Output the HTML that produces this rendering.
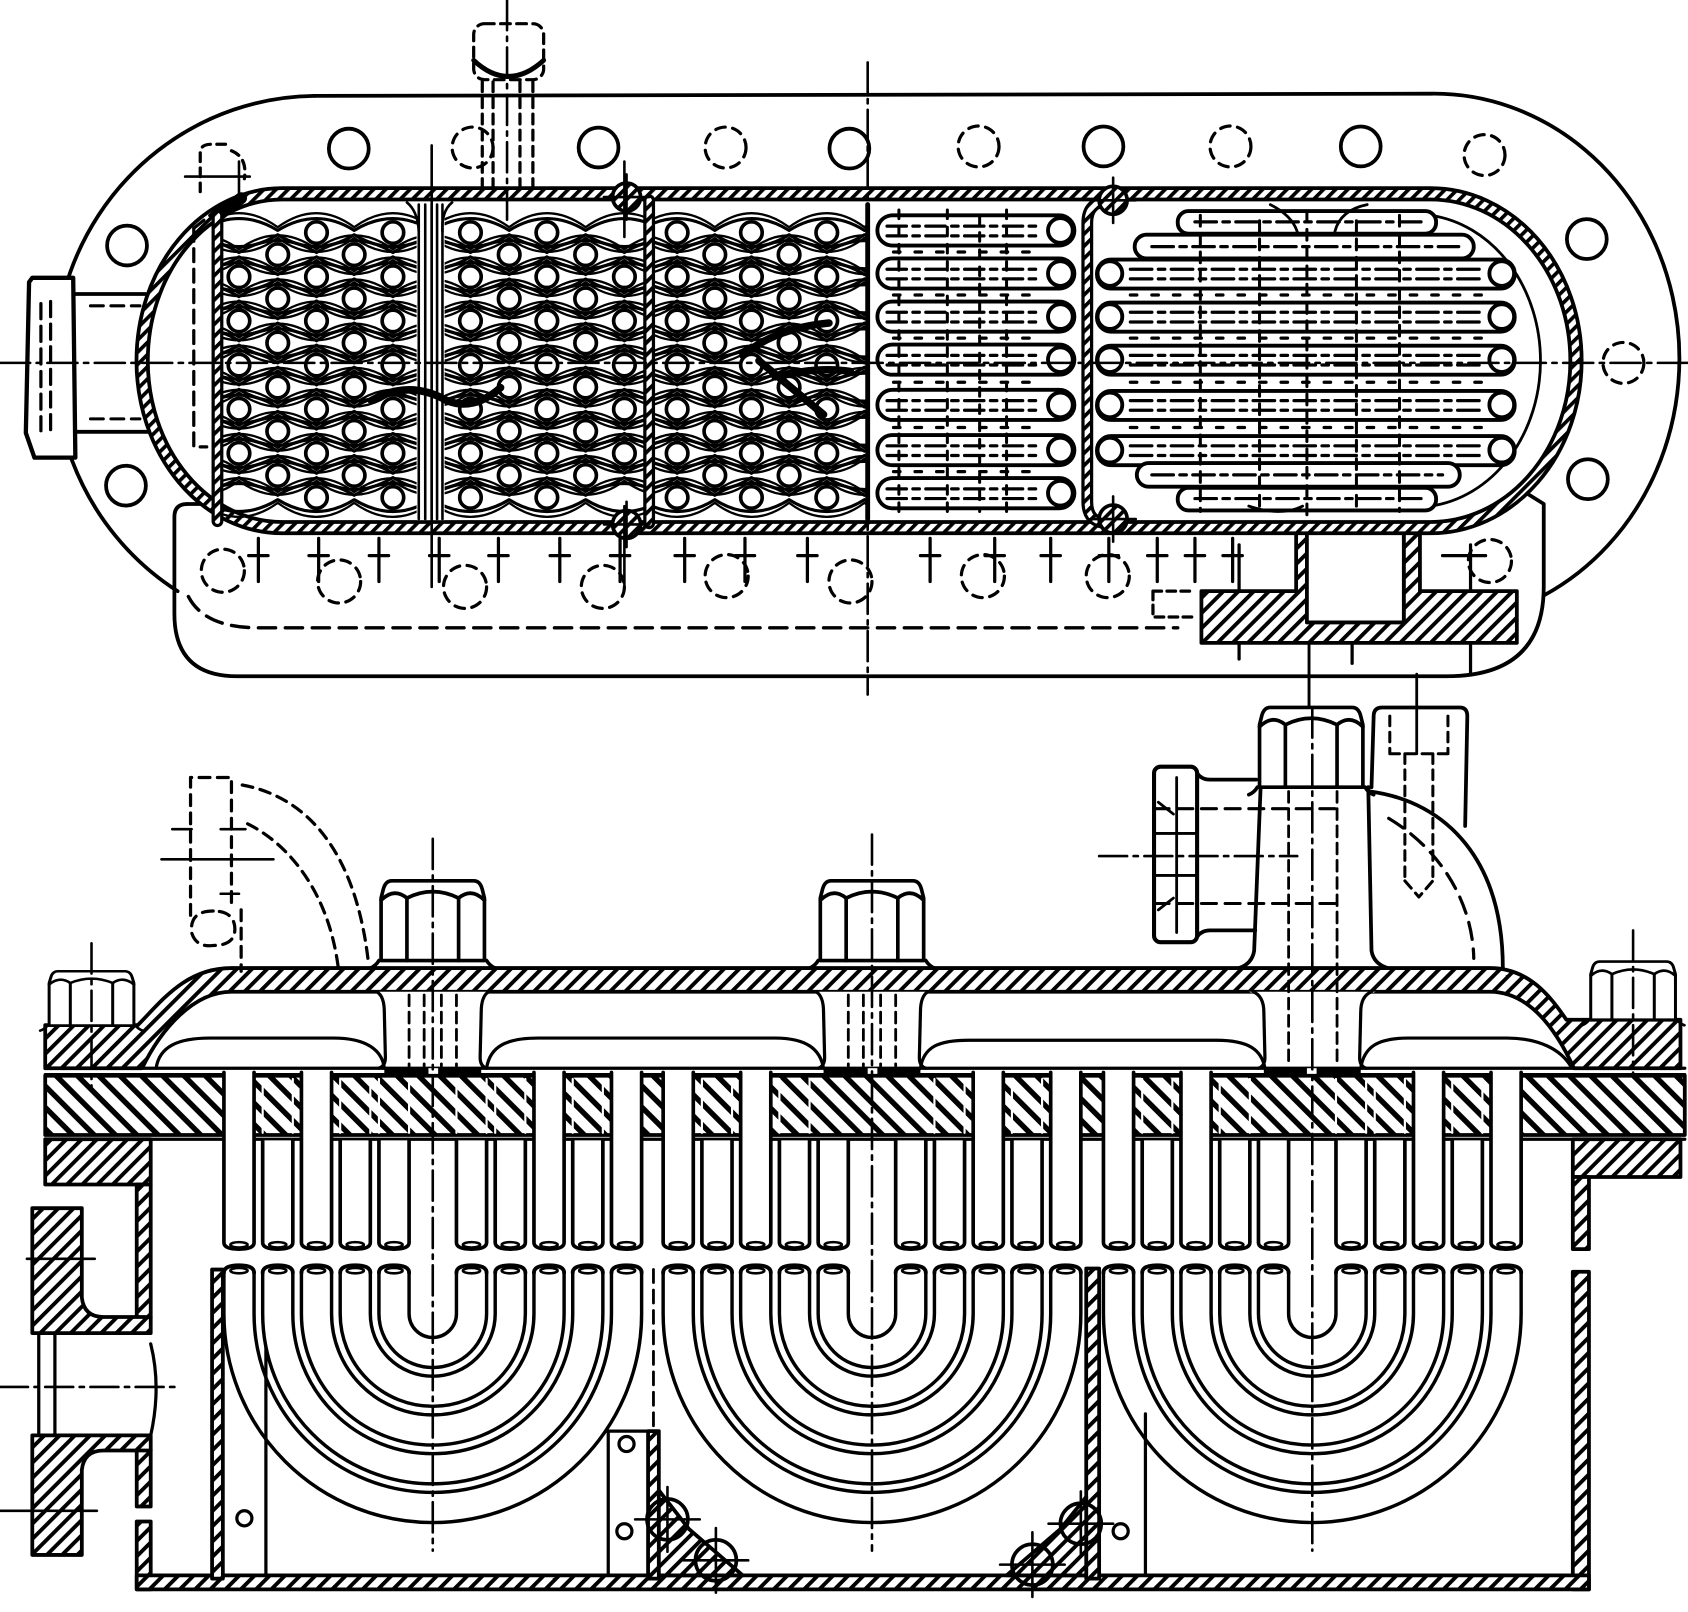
<!DOCTYPE html>
<html><head><meta charset="utf-8"><style>
html,body{margin:0;padding:0;background:#fff;}
svg{display:block;}
</style></head><body>
<svg xmlns="http://www.w3.org/2000/svg" width="1688" height="1612" viewBox="0 0 1568 1497" preserveAspectRatio="none">
<defs>
 <pattern id="hs" patternUnits="userSpaceOnUse" width="8" height="8" patternTransform="rotate(45)"><rect width="8" height="8" fill="#fff"/><rect width="3.4" height="8" fill="#000"/></pattern>
 <pattern id="hc" patternUnits="userSpaceOnUse" width="10" height="10" patternTransform="rotate(45)"><rect width="10" height="10" fill="#fff"/><rect width="3.6" height="10" fill="#000"/></pattern>
 <pattern id="ht" patternUnits="userSpaceOnUse" width="14" height="14" patternTransform="rotate(-45)"><rect width="14" height="14" fill="#fff"/><rect width="5" height="14" fill="#000"/></pattern>
 <clipPath id="cs1"><rect x="207" y="189" width="391" height="294"/></clipPath>
 <clipPath id="cs2"><rect x="608" y="189" width="198" height="294"/></clipPath>

 <g id="l1e" fill="none" stroke="#000" stroke-width="2.9">
  <path d="M186 -2Q222 -24 258 -2Q294 -24 329 -2Q365 -24 401 -2Q437 -24 473 -2Q508 -24 544 -2Q580 -24 616 -2"/>
  <path d="M186 2Q222 24 258 2Q294 24 329 2Q365 24 401 2Q437 24 473 2Q508 24 544 2Q580 24 616 2"/>
  <path d="M186 -5Q222 -31 258 -5Q294 -31 329 -5Q365 -31 401 -5Q437 -31 473 -5Q508 -31 544 -5Q580 -31 616 -5" stroke-width="2.1"/>
  <path d="M186 5Q222 31 258 5Q294 31 329 5Q365 31 401 5Q437 31 473 5Q508 31 544 5Q580 31 616 5" stroke-width="2.1"/>
 </g>
 <g id="l1o" fill="none" stroke="#000" stroke-width="2.9">
  <path d="M150 -2Q186 -24 222 -2Q258 -24 294 -2Q329 -24 365 -2Q401 -24 437 -2Q473 -24 508 -2Q544 -24 580 -2Q616 -24 652 -2"/>
  <path d="M150 2Q186 24 222 2Q258 24 294 2Q329 24 365 2Q401 24 437 2Q473 24 508 2Q544 24 580 2Q616 24 652 2"/>
  <path d="M150 -5Q186 -31 222 -5Q258 -31 294 -5Q329 -31 365 -5Q401 -31 437 -5Q473 -31 508 -5Q544 -31 580 -5Q616 -31 652 -5" stroke-width="2.1"/>
  <path d="M150 5Q186 31 222 5Q258 31 294 5Q329 31 365 5Q401 31 437 5Q473 31 508 5Q544 31 580 5Q616 31 652 5" stroke-width="2.1"/>
 </g>
 <g id="l2e" fill="none" stroke="#000" stroke-width="2.9">
  <path d="M594 -2Q629 -24 664 -2Q698 -24 733 -2Q768 -24 803 -2Q837 -24 872 -2"/>
  <path d="M594 2Q629 24 664 2Q698 24 733 2Q768 24 803 2Q837 24 872 2"/>
  <path d="M594 -5Q629 -31 664 -5Q698 -31 733 -5Q768 -31 803 -5Q837 -31 872 -5" stroke-width="2.1"/>
  <path d="M594 5Q629 31 664 5Q698 31 733 5Q768 31 803 5Q837 31 872 5" stroke-width="2.1"/>
 </g>
 <g id="l2o" fill="none" stroke="#000" stroke-width="2.9">
  <path d="M560 -2Q594 -24 629 -2Q664 -24 698 -2Q733 -24 768 -2Q803 -24 837 -2"/>
  <path d="M560 2Q594 24 629 2Q664 24 698 2Q733 24 768 2Q803 24 837 2"/>
  <path d="M560 -5Q594 -31 629 -5Q664 -31 698 -5Q733 -31 768 -5Q803 -31 837 -5" stroke-width="2.1"/>
  <path d="M560 5Q594 31 629 5Q664 31 698 5Q733 31 768 5Q803 31 837 5" stroke-width="2.1"/>
 </g>
 <g id="c1e" fill="#fff" stroke="#000" stroke-width="3.4"><circle cx="222" r="10"/><circle cx="294" r="10"/><circle cx="365" r="10"/><circle cx="437" r="10"/><circle cx="508" r="10"/><circle cx="580" r="10"/></g>
 <g id="c1r" fill="#fff" stroke="#000" stroke-width="3.4"><circle cx="294" r="10"/><circle cx="365" r="10"/><circle cx="437" r="10"/><circle cx="508" r="10"/></g>
 <g id="c1o" fill="#fff" stroke="#000" stroke-width="3.4"><circle cx="258" r="10"/><circle cx="329" r="10"/><circle cx="473" r="10"/><circle cx="544" r="10"/></g>
 <g id="c2e" fill="#fff" stroke="#000" stroke-width="3.4"><circle cx="629" r="10"/><circle cx="698" r="10"/><circle cx="768" r="10"/></g>
 <g id="c2o" fill="#fff" stroke="#000" stroke-width="3.4"><circle cx="664" r="10"/><circle cx="733" r="10"/></g>

 <g id="nut" fill="#fff" stroke="#000" stroke-width="3.4" stroke-linejoin="round">
  <path d="M-38 0L38 0Q44 0 46 8L48 16L48 74L-48 74L-48 16L-46 8Q-44 0 -38 0Z"/>
  <path d="M-48 18Q-36 6 -24 16Q0 4 24 16Q36 6 48 18" fill="none"/>
  <path d="M-24 16V74M24 16V74" fill="none"/>
  <path d="M-50 74Q-53 79 -58 81M50 74Q53 79 58 81" fill="none"/>
 </g>

 <g id="ub" fill="none" stroke="#000" stroke-width="3.2">
  <path d="M-50 -38V0A50 50 0 0 0 50 0V-38M-22 -38V0A22 22 0 0 0 22 0V-38"/>
  <path d="M-86 -38V0A86 86 0 0 0 86 0V-38M-58 -38V0A58 58 0 0 0 58 0V-38"/>
  <path d="M-122 -38V0A122 122 0 0 0 122 0V-38M-94 -38V0A94 94 0 0 0 94 0V-38"/>
  <path d="M-158 -38V0A158 158 0 0 0 158 0V-38M-130 -38V0A130 130 0 0 0 130 0V-38"/>
  <path d="M-194 -38V0A194 194 0 0 0 194 0V-38M-166 -38V0A166 166 0 0 0 166 0V-38"/>
  <path d="M-50 -38Q-50 -45 -36 -45Q-22 -45 -22 -38M22 -38Q22 -45 36 -45Q50 -45 50 -38M-86 -38Q-86 -45 -72 -45Q-58 -45 -58 -38M58 -38Q58 -45 72 -45Q86 -45 86 -38M-122 -38Q-122 -45 -108 -45Q-94 -45 -94 -38M94 -38Q94 -45 108 -45Q122 -45 122 -38M-158 -38Q-158 -45 -144 -45Q-130 -45 -130 -38M130 -38Q130 -45 144 -45Q158 -45 158 -38M-194 -38Q-194 -45 -180 -45Q-166 -45 -166 -38M166 -38Q166 -45 180 -45Q194 -45 194 -38" stroke-width="3.6"/>
  <g stroke-width="2.4"><ellipse cx="-36" cy="-40" rx="8" ry="2.5"/><ellipse cx="36" cy="-40" rx="8" ry="2.5"/><ellipse cx="-72" cy="-40" rx="8" ry="2.5"/><ellipse cx="72" cy="-40" rx="8" ry="2.5"/><ellipse cx="-108" cy="-40" rx="8" ry="2.5"/><ellipse cx="108" cy="-40" rx="8" ry="2.5"/><ellipse cx="-144" cy="-40" rx="8" ry="2.5"/><ellipse cx="144" cy="-40" rx="8" ry="2.5"/><ellipse cx="-180" cy="-40" rx="8" ry="2.5"/><ellipse cx="180" cy="-40" rx="8" ry="2.5"/></g>
 </g>
 <g id="tS" stroke="#000" stroke-width="3.4"><path d="M-14 -101V-6Q-14 0 0 0Q14 0 14 -6V-101" fill="#fff"/><ellipse cy="-4" rx="8" ry="2.5" fill="none" stroke-width="2.4"/></g>
 <g id="tL" stroke="#000" stroke-width="3.4"><path d="M-14 -164V-6Q-14 0 0 0Q14 0 14 -6V-164" fill="#fff"/><ellipse cy="-4" rx="8" ry="2.5" fill="none" stroke-width="2.4"/></g>
 <g id="weld" stroke="#000"><circle r="13" fill="url(#hs)" stroke-width="3.4"/><path d="M-21 0H21M0 -21V21" stroke-width="2.4" fill="none"/></g>
 <g id="weldB" stroke="#000" fill="none"><circle r="19" stroke-width="3.4"/><path d="M-30 0H30M0 -30V30" stroke-width="2.4"/></g>
</defs>

<g fill="none" stroke="#000" stroke-width="3.5" stroke-linecap="round" stroke-linejoin="round">

<!-- ================= TOP VIEW ================= -->
<path d="M292 89L1330 87A228 246 0 0 1 1434 553"/>
<path d="M292 89A244 249 0 0 0 165 549"/>
<path d="M174 468Q162 468 162 480L162 570Q162 628 220 628L1344 628Q1434 628 1434 545L1434 468L1418 458"/>
<path d="M174 468L194 468"/>

<g stroke-width="3.5">
<circle cx="324" cy="138" r="18.5"/><circle cx="556" cy="137" r="18.5"/><circle cx="789" cy="138" r="18.5"/><circle cx="1025" cy="136" r="18.5"/><circle cx="1264" cy="136" r="18.5"/>
<circle cx="118" cy="228" r="18.5"/><circle cx="117" cy="451" r="18.5"/><circle cx="1474" cy="222" r="18.5"/><circle cx="1475" cy="445" r="18.5"/>
</g>
<g stroke-width="3" stroke-dasharray="9 7">
<circle cx="439" cy="137" r="19"/><circle cx="674" cy="137" r="19"/><circle cx="909" cy="136" r="19"/><circle cx="1143" cy="136" r="19"/><circle cx="1379" cy="144" r="19"/><circle cx="1508" cy="337" r="19"/>
</g>

<g stroke-width="3" stroke-dasharray="9 6">
<rect x="440" y="22" width="65" height="52" rx="10"/>
<path d="M448 76V176M458 76V176M483 76V176M495 76V176"/>
</g>
<path d="M440 56Q472 86 505 56" stroke-width="4.5"/>
<g stroke-width="3" stroke-dasharray="8 6"><path d="M186 178V142Q186 134 196 134H214"/><path d="M215 140Q230 146 227 166"/></g>
<path d="M172 164H232M222 150V182" stroke-width="2.4"/>

<path d="M175 554Q190 583 240 583L1094 583" stroke-dasharray="16 9" stroke-width="3.2"/>
<g stroke-width="3" stroke-dasharray="9 7">
<circle cx="207" cy="530" r="20"/><circle cx="315" cy="540" r="20"/><circle cx="432" cy="545" r="20"/><circle cx="560" cy="545" r="20"/><circle cx="675" cy="535" r="20"/><circle cx="790" cy="540" r="20"/><circle cx="913" cy="535" r="20"/><circle cx="1029" cy="535" r="20"/><circle cx="1384" cy="521" r="20"/>
</g>
<path stroke-width="3" d="M231 516H249M240 500V540M287 516H305M296 500V540M343 516H361M352 500V540M399 516H417M408 500V540M454 516H472M463 500V540M511 516H529M520 500V540M567 516H585M576 500V540M627 516H645M636 500V540M683 516H701M692 500V540M741 516H759M750 500V540M855 516H873M864 500V540M915 516H933M924 500V540M967 516H985M976 500V540M1021 516H1039M1030 500V540M1066 516H1084M1075 500V540M1101 516H1119M1110 500V540M1136 516H1154M1145 500V540M1151 506V612M1256 506V616M1366 506V626M1340 516H1380"/>

<path d="M1116 549L1204 549L1204 492L1214 492L1214 578L1304 578L1304 492L1319 492L1319 549L1409 549L1409 597L1116 597Z" fill="url(#hc)"/>
<path d="M1214 492V578H1304V492" fill="#fff"/>
<path d="M1071 549H1109M1071 549V573H1109" stroke-dasharray="8 5" stroke-width="3"/>
<path d="M1216 597V657M1316 626V700" stroke-width="2.6"/>

<path d="M30 258L68 258L70 425L32 425L24 402L27 262Z" fill="#fff" stroke-width="4"/>
<path d="M38 282V400M47 280V402" stroke-dasharray="14 7" stroke-width="3"/>
<path d="M70 273H135M70 401H140"/>
<path d="M84 284H130M84 389H130" stroke-dasharray="12 7" stroke-width="2.8"/>

<path d="M262 180L1329 180A135 155 0 0 1 1329 490L262 490A130 155 0 0 1 262 180Z" fill="#fff" stroke-width="14"/>
<path d="M262 180L1329 180A135 155 0 0 1 1329 490L262 490A130 155 0 0 1 262 180Z" stroke="url(#hs)" stroke-width="7"/>
<path d="M1329 200A116 136 0 0 1 1329 470" stroke-width="2.6"/>

<path d="M202 200V484M203 200L224 184M603 186V486M1030 187Q1010 187 1010 207L1010 466Q1010 486 1030 486" stroke-width="11"/>
<path d="M202 200V484M603 186V486M1030 187Q1010 187 1010 207L1010 466Q1010 486 1030 486" stroke="url(#hs)" stroke-width="5"/>
<path d="M180 212V415H192M180 212L210 188" stroke-dasharray="12 7" stroke-width="3"/>

<g clip-path="url(#cs1)">
<use href="#l1e" y="216"/><use href="#l1o" y="236.5"/><use href="#l1e" y="257"/><use href="#l1o" y="277.5"/><use href="#l1e" y="298"/><use href="#l1o" y="318.5"/><use href="#l1e" y="339"/><use href="#l1o" y="359.5"/><use href="#l1e" y="380"/><use href="#l1o" y="400.5"/><use href="#l1e" y="421"/><use href="#l1o" y="441.5"/><use href="#l1e" y="462"/>
</g>
<use href="#c1r" y="216"/><use href="#c1o" y="236.5"/><use href="#c1e" y="257"/><use href="#c1o" y="277.5"/><use href="#c1e" y="298"/><use href="#c1o" y="318.5"/><use href="#c1e" y="339"/><use href="#c1o" y="359.5"/><use href="#c1e" y="380"/><use href="#c1o" y="400.5"/><use href="#c1e" y="421"/><use href="#c1o" y="441.5"/><use href="#c1r" y="462"/>
<rect x="387" y="188" width="26" height="295" fill="#fff" stroke="none"/>
<path d="M389 190V482M395 190V482M401 190V482M406 190V482M411 190V482" stroke-width="2.4"/>
<path d="M378 188Q388 196 389 215M420 188Q410 196 411 215" stroke-width="2.4"/>

<g clip-path="url(#cs2)">
<use href="#l2e" y="216"/><use href="#l2o" y="236.5"/><use href="#l2e" y="257"/><use href="#l2o" y="277.5"/><use href="#l2e" y="298"/><use href="#l2o" y="318.5"/><use href="#l2e" y="339"/><use href="#l2o" y="359.5"/><use href="#l2e" y="380"/><use href="#l2o" y="400.5"/><use href="#l2e" y="421"/><use href="#l2o" y="441.5"/><use href="#l2e" y="462"/>
</g>
<use href="#c2e" y="216"/><use href="#c2o" y="236.5"/><use href="#c2e" y="257"/><use href="#c2o" y="277.5"/><use href="#c2e" y="298"/><use href="#c2o" y="318.5"/><use href="#c2e" y="339"/><use href="#c2o" y="359.5"/><use href="#c2e" y="380"/><use href="#c2o" y="400.5"/><use href="#c2e" y="421"/><use href="#c2o" y="441.5"/><use href="#c2e" y="462"/>
<g stroke-width="7">
<path d="M345 372Q380 352 415 372Q440 382 465 360"/>
<path d="M690 330Q720 305 770 300M705 335L765 385M720 350Q760 340 790 345"/>
</g>
<path d="M806 190V482" stroke-width="4.5"/>

<!-- section 3 -->
<g fill="#fff" stroke-width="3.6">
<rect x="815" y="200" width="183" height="28" rx="14"/><rect x="815" y="240" width="183" height="28" rx="14"/><rect x="815" y="280" width="183" height="28" rx="14"/><rect x="815" y="320" width="183" height="28" rx="14"/><rect x="815" y="362" width="183" height="28" rx="14"/><rect x="815" y="404" width="183" height="28" rx="14"/><rect x="815" y="444" width="183" height="28" rx="14"/>
<circle cx="985" cy="214" r="11.5"/><circle cx="985" cy="254" r="11.5"/><circle cx="985" cy="294" r="11.5"/><circle cx="985" cy="334" r="11.5"/><circle cx="985" cy="376" r="11.5"/><circle cx="985" cy="418" r="11.5"/><circle cx="985" cy="458" r="11.5"/>
</g>
<path stroke-width="3" stroke-dasharray="18 6 6 6" d="M824 210H968M824 219H968M824 250H968M824 259H968M824 290H968M824 299H968M824 330H968M824 339H968M824 372H968M824 381H968M824 414H968M824 423H968M824 454H968M824 463H968"/>
<path stroke-width="3" stroke-dasharray="6 14" d="M830 234H970M830 274H970M830 314H970M830 355H970M830 397H970M830 438H970"/>
<path stroke-width="2.8" stroke-dasharray="8 8" d="M835 195V478M880 195V478M935 195V478M910 200V475"/>

<!-- section 4 -->
<g fill="#fff" stroke-width="3.6">
<rect x="1094" y="196" width="240" height="21" rx="10"/><rect x="1054" y="218" width="315" height="22" rx="11"/>
<rect x="1019" y="241" width="388" height="27" rx="13"/><rect x="1019" y="281" width="388" height="27" rx="13"/><rect x="1019" y="321" width="388" height="27" rx="13"/><rect x="1019" y="363" width="388" height="27" rx="13"/><rect x="1019" y="405" width="388" height="27" rx="13"/>
<rect x="1056" y="430" width="300" height="22" rx="11"/><rect x="1094" y="453" width="240" height="21" rx="10"/>
<circle cx="1031" cy="254" r="11.5"/><circle cx="1031" cy="294" r="11.5"/><circle cx="1031" cy="334" r="11.5"/><circle cx="1031" cy="376" r="11.5"/><circle cx="1031" cy="418" r="11.5"/>
<circle cx="1395" cy="254" r="11.5"/><circle cx="1395" cy="294" r="11.5"/><circle cx="1395" cy="334" r="11.5"/><circle cx="1395" cy="376" r="11.5"/><circle cx="1395" cy="418" r="11.5"/>
</g>
<path stroke-width="3" stroke-dasharray="20 6 6 6" d="M1110 206H1320M1070 229H1355M1050 250H1380M1050 259H1380M1050 290H1380M1050 299H1380M1050 330H1380M1050 339H1380M1050 372H1380M1050 381H1380M1050 414H1380M1050 423H1380M1070 441H1340M1110 463H1320"/>
<path stroke-width="3" stroke-dasharray="6 14" d="M1050 274H1380M1050 314H1380M1050 355H1380M1050 397H1380"/>
<path stroke-width="2.8" stroke-dasharray="10 7" d="M1214 196V478M1115 200V475M1300 200V475M1170 205V470M1260 205V470"/>
<path d="M1180 190Q1200 200 1205 215M1240 215Q1245 195 1270 190M1160 470Q1190 480 1210 470" stroke-width="2.6"/>

<use href="#weld" x="582" y="183"/><use href="#weld" x="582" y="487"/><use href="#weld" x="1034" y="186"/><use href="#weld" x="1034" y="482"/>

<g stroke-width="2.4" stroke-dasharray="28 6 4 6">
<path d="M0 337H1568"/>
<path d="M806 58V645"/>
<path d="M471 0V210"/>
</g>
<path d="M401 135V545M580 150V220M580 470V545" stroke-width="2.4"/>

<!-- ================= BOTTOM VIEW ================= -->
<path d="M42 952L128 952C150 930 172 899 215 899L1384 899C1420 899 1440 925 1455 947L1561 947L1561 992L1462 992C1445 955 1420 921 1384 921L215 921C180 921 150 955 132 992L42 992Z" fill="url(#hc)"/>
<g fill="#fff" stroke="none">
<path d="M350 921L454 921Q447 925 447 940L446 982L448 992L356 992L358 982L357 940Q357 925 350 921Z"/>
<path d="M758 921L862 921Q855 925 855 940L854 982L856 992L764 992L766 982L765 940Q765 925 758 921Z"/>
<path d="M1160 921L1278 921Q1264 925 1264 940L1263 982L1265 992L1173 992L1175 982L1174 940Q1174 925 1160 921Z"/>
</g>
<path stroke-width="3" d="M350 921Q357 925 357 940L358 982Q358 990 352 992M454 921Q447 925 447 940L446 982Q446 990 452 992M758 921Q765 925 765 940L766 982Q766 990 760 992M862 921Q855 925 855 940L854 982Q854 990 860 992M1164 921Q1174 925 1174 940L1175 982Q1175 990 1169 992M1274 921Q1264 925 1264 940L1263 982Q1263 990 1269 992"/>
<path stroke-width="2.6" stroke-dasharray="10 6" d="M380 924V990M394 924V990M410 924V990M424 924V990M788 924V990M802 924V990M818 924V990M832 924V990M1197 735V990M1242 735V990"/>
<path stroke-width="3" d="M145 992C148 972 165 964 195 964L310 964C340 964 355 975 357 992M452 992C455 972 470 964 500 964L720 964C750 964 762 975 765 992M855 992C858 972 872 966 900 966L1130 966C1160 966 1172 975 1175 992M1264 992C1267 972 1280 964 1308 964L1400 964C1430 964 1450 975 1459 990"/>
<path d="M42 992H1565M42 998H1565" stroke-width="3"/>
<rect x="357" y="991" width="90" height="8" fill="#000" stroke="none"/>
<rect x="765" y="991" width="90" height="8" fill="#000" stroke="none"/>
<rect x="1174" y="991" width="90" height="8" fill="#000" stroke="none"/>
<g fill="#fff" stroke="none"><rect x="398" y="992" width="9" height="6"/><rect x="806" y="992" width="9" height="6"/><rect x="1214" y="992" width="9" height="6"/></g>
<rect x="42" y="999" width="1523" height="55" fill="url(#ht)"/>
<path d="M42 1058H1565" stroke-width="3"/>
<path d="M244 1002V1052M272 1002V1052M316 1002V1052M344 1002V1052M352 1002V1052M380 1002V1052M424 1002V1052M452 1002V1052M460 1002V1052M488 1002V1052M532 1002V1052M560 1002V1052M652 1002V1052M680 1002V1052M724 1002V1052M752 1002V1052M868 1002V1052M896 1002V1052M940 1002V1052M968 1002V1052M1061 1002V1052M1089 1002V1052M1133 1002V1052M1161 1002V1052M1241 1002V1052M1269 1002V1052M1277 1002V1052M1305 1002V1052M1349 1002V1052M1377 1002V1052" stroke="#fff" stroke-width="2"/>
<g transform="translate(0,1160)">
<use href="#tL" x="222"/><use href="#tS" x="258"/><use href="#tL" x="294"/><use href="#tS" x="330"/><use href="#tS" x="366"/><use href="#tS" x="438"/><use href="#tS" x="474"/><use href="#tL" x="510"/><use href="#tS" x="546"/><use href="#tL" x="582"/>
<use href="#tL" x="630"/><use href="#tS" x="666"/><use href="#tL" x="702"/><use href="#tS" x="738"/><use href="#tS" x="774"/><use href="#tS" x="846"/><use href="#tS" x="882"/><use href="#tL" x="918"/><use href="#tS" x="954"/><use href="#tL" x="990"/>
<use href="#tL" x="1039"/><use href="#tS" x="1075"/><use href="#tL" x="1111"/><use href="#tS" x="1147"/><use href="#tS" x="1183"/><use href="#tS" x="1255"/><use href="#tS" x="1291"/><use href="#tL" x="1327"/><use href="#tS" x="1363"/><use href="#tL" x="1399"/>
</g>
<use href="#ub" x="402" y="1220"/><use href="#ub" x="810" y="1220"/><use href="#ub" x="1219" y="1220"/>

<g fill="url(#hc)">
<rect x="42" y="1058" width="98" height="42"/>
<rect x="1461" y="1058" width="100" height="35"/>
<rect x="127" y="1100" width="13" height="124"/>
<rect x="127" y="1346" width="13" height="53"/>
<rect x="127" y="1413" width="13" height="63"/>
<rect x="1461" y="1093" width="15" height="67"/>
<rect x="1461" y="1181" width="15" height="295"/>
<rect x="127" y="1463" width="1349" height="13"/>
<rect x="197" y="1179" width="10" height="287"/>
<rect x="602" y="1329" width="10" height="137"/>
<rect x="1009" y="1178" width="12" height="288"/>
<path d="M612 1384L640 1420L690 1463L612 1463Z"/>
<path d="M1009 1390L985 1420L935 1463L1009 1463Z"/>
<path d="M30 1122L76 1122L76 1205Q78 1223 96 1223L140 1223L140 1238L30 1238Z"/>
<path d="M30 1333L140 1333L140 1347L96 1347Q78 1347 76 1365L76 1444L30 1444Z"/>
</g>
<path d="M36 1238V1333M51 1238V1333" stroke-width="3"/>
<path d="M140 1248Q150 1288 140 1333" stroke-width="3"/>
<path d="M0 1288H168" stroke-width="2.4" stroke-dasharray="26 6 4 6"/>
<path d="M25 1169H88M0 1403H90" stroke-width="2.4"/>
<path d="M247 1250V1463M565 1463V1329H602M1064 1313V1463" stroke-width="3"/>
<g stroke-width="3"><circle cx="227" cy="1410" r="7"/><circle cx="582" cy="1341" r="7"/><circle cx="580" cy="1422" r="7"/><circle cx="1041" cy="1422" r="7"/></g>
<path d="M607 1179V1329" stroke-width="2.6" stroke-dasharray="12 7"/>
<use href="#weldB" x="620" y="1411"/><use href="#weldB" x="665" y="1449"/><use href="#weldB" x="1004" y="1415"/><use href="#weldB" x="959" y="1453"/>

<use href="#nut" x="402" y="818"/>
<use href="#nut" x="810" y="818"/>
<use href="#nut" x="1218" y="657"/>
<use href="#nut" transform="translate(85,902) scale(0.82,0.68)"/>
<use href="#nut" transform="translate(1517,893) scale(0.82,0.73)"/>

<path d="M1171 731L1165 883Q1163 895 1151 899M1271 731L1274 883Q1276 895 1289 899"/>
<path d="M1273 735C1345 745 1396 800 1396 899"/>
<path d="M1290 760C1340 790 1368 840 1369 890" stroke-dasharray="16 9" stroke-width="3"/>
<path d="M1274 731L1276 665Q1276 657 1284 657L1356 657Q1363 657 1363 665L1361 767"/>
<path d="M1291 665V700M1345 665V700M1291 700H1345M1305 700V820M1331 700V820M1305 818L1318 833L1331 818" stroke-dasharray="9 6" stroke-width="2.8"/>
<rect x="1072" y="712" width="40" height="163" rx="6" fill="#fff" stroke-width="3.8"/>
<path d="M1112 718Q1116 724 1124 724L1167 724M1112 870Q1116 864 1124 864L1166 864"/>
<path d="M1093 722V866M1072 774H1112M1072 813H1112M1076 745L1090 756M1076 845L1090 834" stroke-width="2.6"/>
<path d="M1072 751H1240M1072 839H1240" stroke-dasharray="14 8" stroke-width="2.8"/>
<path d="M1021 795H1205" stroke-width="2.4" stroke-dasharray="26 6 4 6"/>

<g stroke-dasharray="10 7" stroke-width="3">
<path d="M177 850V722H215V760"/>
<path d="M215 760V845"/>
<path d="M198 846Q176 846 178 866Q182 880 198 878Q220 878 218 860Q216 846 198 846"/>
<path d="M225 729C285 740 330 790 342 892"/>
<path d="M230 765C270 785 305 830 314 897"/>
<path d="M224 845V902"/>
</g>
<path d="M150 798H254M160 770H178M205 770H228M205 830H222" stroke-width="2.4"/>

<g stroke-width="2.4" stroke-dasharray="28 6 4 6">
<path d="M402 779V1440"/>
<path d="M810 775V1440"/>
<path d="M1219 657V1440"/>
<path d="M85 876V1010"/>
<path d="M1517 864V1000"/>
</g>
<path d="M1216 597V657" stroke-width="2.4"/>
</g>
</svg>
</body></html>
